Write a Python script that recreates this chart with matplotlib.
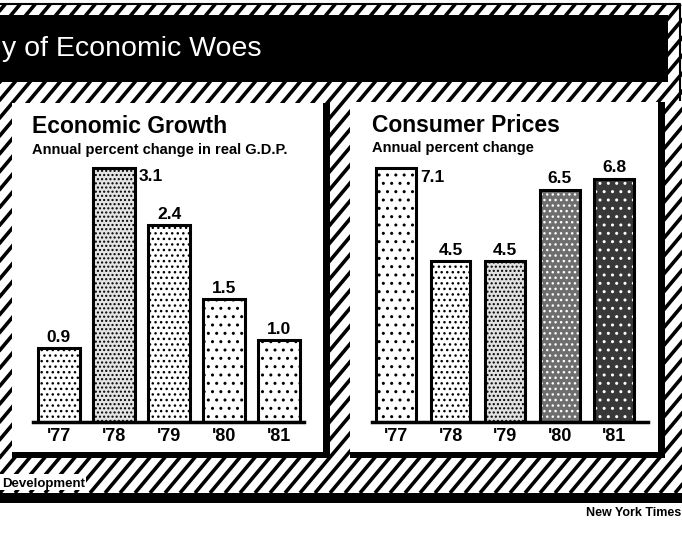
import numpy as np
import matplotlib.pyplot as plt
from matplotlib.patches import Rectangle
from matplotlib.collections import LineCollection

years = ["'77", "'78", "'79", "'80", "'81"]
growth = [0.9, 3.1, 2.4, 1.5, 1.0]   # real G.D.P., annual % change
prices = [7.1, 4.5, 4.5, 6.5, 6.8]   # consumer prices, annual % change

W, H = 682, 539
plt.rcParams['font.family'] = ['Liberation Sans', 'DejaVu Sans']
plt.rcParams['hatch.linewidth'] = 1.0

fig = plt.figure(figsize=(W / 100, H / 100), dpi=100)

# background layer in pixel coordinates
bg = fig.add_axes([0, 0, 1, 1])
bg.set_xlim(0, W)
bg.set_ylim(H, 0)
bg.axis('off')

# diagonal hatching behind everything
clip = Rectangle((0, 4), W, 489, facecolor='none', edgecolor='none', transform=bg.transData)
bg.add_patch(clip)
run = 489 / np.tan(np.radians(50))
segs = [[(x0, 493), (x0 + run, 4)] for x0 in np.arange(-420, W + 20, 15)]
stripes = LineCollection(segs, colors='black', linewidths=2.6, zorder=1)
stripes.set_clip_path(clip)
bg.add_collection(stripes)
bg.plot([0, 680, 680], [4, 4, 100], color='black', lw=1.5, zorder=2)

# black title banner
bg.add_patch(Rectangle((0, 15), 668, 67, facecolor='black', zorder=3))
bg.text(2, 56, 'y of Economic Woes', color='white', fontsize=20.5, va='baseline', zorder=6)


def panel(x0, y0, x1, y1):
    bg.add_patch(Rectangle((x0, y0), x1 - x0, y1 - y0, facecolor='black', zorder=3))
    bg.add_patch(Rectangle((x0, y0), x1 - x0 - 7, y1 - y0 - 6, facecolor='white', zorder=4))


panel(12, 103, 330, 458)
panel(350, 102, 665, 458)

bg.text(32, 133, 'Economic Growth', fontsize=16.5, fontweight='bold', va='baseline', zorder=6)
bg.text(32, 154, 'Annual percent change in real G.D.P.', fontsize=10.5, fontweight='bold',
        va='baseline', zorder=6)
bg.text(372, 132, 'Consumer Prices', fontsize=16.5, fontweight='bold', va='baseline', zorder=6)
bg.text(372, 152, 'Annual percent change', fontsize=10.5, fontweight='bold',
        va='baseline', zorder=6)

# bottom strip
bg.add_patch(Rectangle((0, 493), W, 10, facecolor='black', zorder=3))
bg.add_patch(Rectangle((0, 474), 86, 16, facecolor='white', zorder=4))
bg.text(2, 487, 'Development', fontsize=9.5, fontweight='bold', va='baseline', zorder=6)
bg.text(681, 516, 'New York Times', fontsize=9, fontweight='bold', ha='right',
        va='baseline', zorder=6)


def px_axes(left, right, base, top):
    ax = fig.add_axes([left / W, 1 - base / H, (right - left) / W, (base - top) / H])
    ax.patch.set_visible(False)
    return ax


def draw_bars(ax, vals, width, xlim, ylim, faces, dots, hatches):
    x = np.arange(len(vals))
    fill = ax.bar(x, vals, width, color=faces, edgecolor=dots, linewidth=0)
    for p, h in zip(fill, hatches):
        p.set_hatch(h)
    ax.bar(x, vals, width, fill=False, edgecolor='black', linewidth=2.2)
    top = max(vals)
    for xi, v in zip(x, vals):
        if v == top:
            ax.annotate(f'{v:.1f}', (xi + width / 2, v), xytext=(3, -1), textcoords='offset points',
                        ha='left', va='top', fontsize=12.5, fontweight='bold')
        else:
            ax.annotate(f'{v:.1f}', (xi, v), xytext=(0, 2.5), textcoords='offset points',
                        ha='center', va='bottom', fontsize=12.5, fontweight='bold')
    ax.set_xlim(*xlim)
    ax.set_ylim(*ylim)
    ax.set_xticks(x, years)
    ax.set_yticks([])
    ax.tick_params(axis='x', length=0, pad=4, labelsize=13)
    for lbl in ax.get_xticklabels():
        lbl.set_fontweight('bold')
    for s in ['left', 'right', 'top']:
        ax.spines[s].set_visible(False)
    ax.spines['bottom'].set_linewidth(2.5)


ax1 = px_axes(33, 304, 422, 127)
draw_bars(ax1, growth, 0.76, (-0.47, 4.45), (0, 3.6),
          ['white', '#e4e4e4', 'white', 'white', 'white'],
          ['black'] * 5,
          ['...', '....', '...', '..', '..'])

ax2 = px_axes(372, 648, 422, 136)
draw_bars(ax2, prices, 0.73, (-0.44, 4.62), (0, 8),
          ['white', 'white', '#e2e2e2', '#6e6e6e', '#383838'],
          ['black', 'black', 'black', 'white', 'white'],
          ['..', '...', '....', '...', '..'])

fig.savefig('out.png', dpi=100)
